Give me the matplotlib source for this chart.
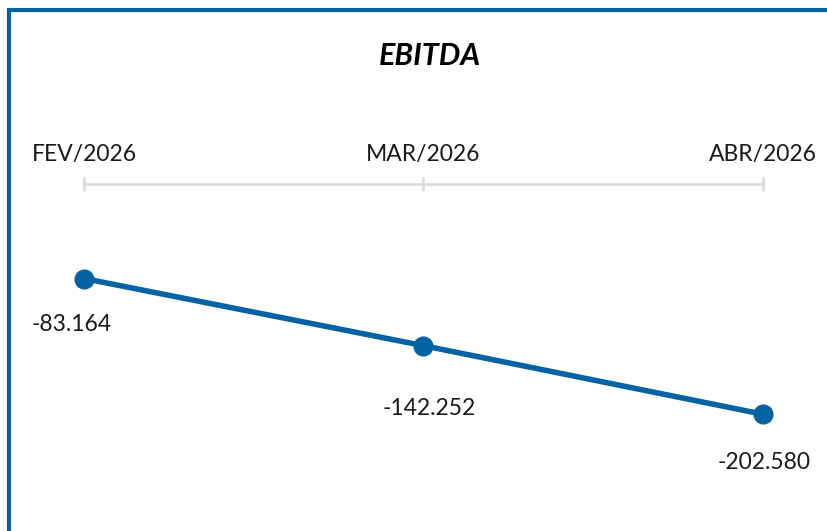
import matplotlib.pyplot as plt
from matplotlib.patches import Rectangle

# Data
months = ["FEV/2026", "MAR/2026", "ABR/2026"]
ebitda = [-83.164, -142.252, -202.580]
value_labels = ["-83.164", "-142.252", "-202.580"]

# label offsets in points (dx, dy)
label_offsets = [(-9, -33), (4, -45), (1, -35)]

blue = "#0563a3"
grey = "#d9d9d9"

plt.rcParams["font.family"] = ["Lato", "DejaVu Sans"]

fig = plt.figure(figsize=(8.28, 5.31), dpi=100)
fig.patch.set_facecolor("white")

# blue frame on top/left (right and bottom edges fall outside the figure)
top = 1 - 9.5 / 531
fig.patches.append(Rectangle((8.5 / 828, -0.2), 1.2, top + 0.2,
                             transform=fig.transFigure, fill=False,
                             edgecolor=blue, linewidth=3))

fig.text(0.519, 1 - 56 / 531, "EBITDA", ha="center", va="center",
         fontsize=22, fontweight="bold", fontstyle="italic")

ax = fig.add_axes([0, 0, 1, 1 - 184 / 531])
x = list(range(len(months)))
ax.plot(x, ebitda, color=blue, linewidth=4, marker="o", markersize=13.5,
        clip_on=False, solid_capstyle="round")

px = 339.5
ax.set_xlim(-84 / px, 2 + (828 - 763) / px)
ax.set_ylim(-305.3, 0)

for xi, val, lab, (dx, dy) in zip(x, ebitda, value_labels, label_offsets):
    ax.annotate(lab, (xi, val), xytext=(dx, dy), textcoords="offset points",
                ha="center", va="center", fontsize=16.5, color="#1a1a1a")

for s in ["left", "right", "bottom"]:
    ax.spines[s].set_visible(False)
ax.spines["top"].set_color(grey)
ax.spines["top"].set_linewidth(1.8)
ax.spines["top"].set_bounds(0, 2)

ax.set_yticks([])
ax.xaxis.tick_top()
ax.set_xticks(x)
ax.set_xticklabels(months, fontsize=16.5, color="#1a1a1a")
ax.tick_params(axis="x", direction="inout", length=10, width=1.8,
               color=grey, pad=9)

fig.savefig("out.png", dpi=100)
